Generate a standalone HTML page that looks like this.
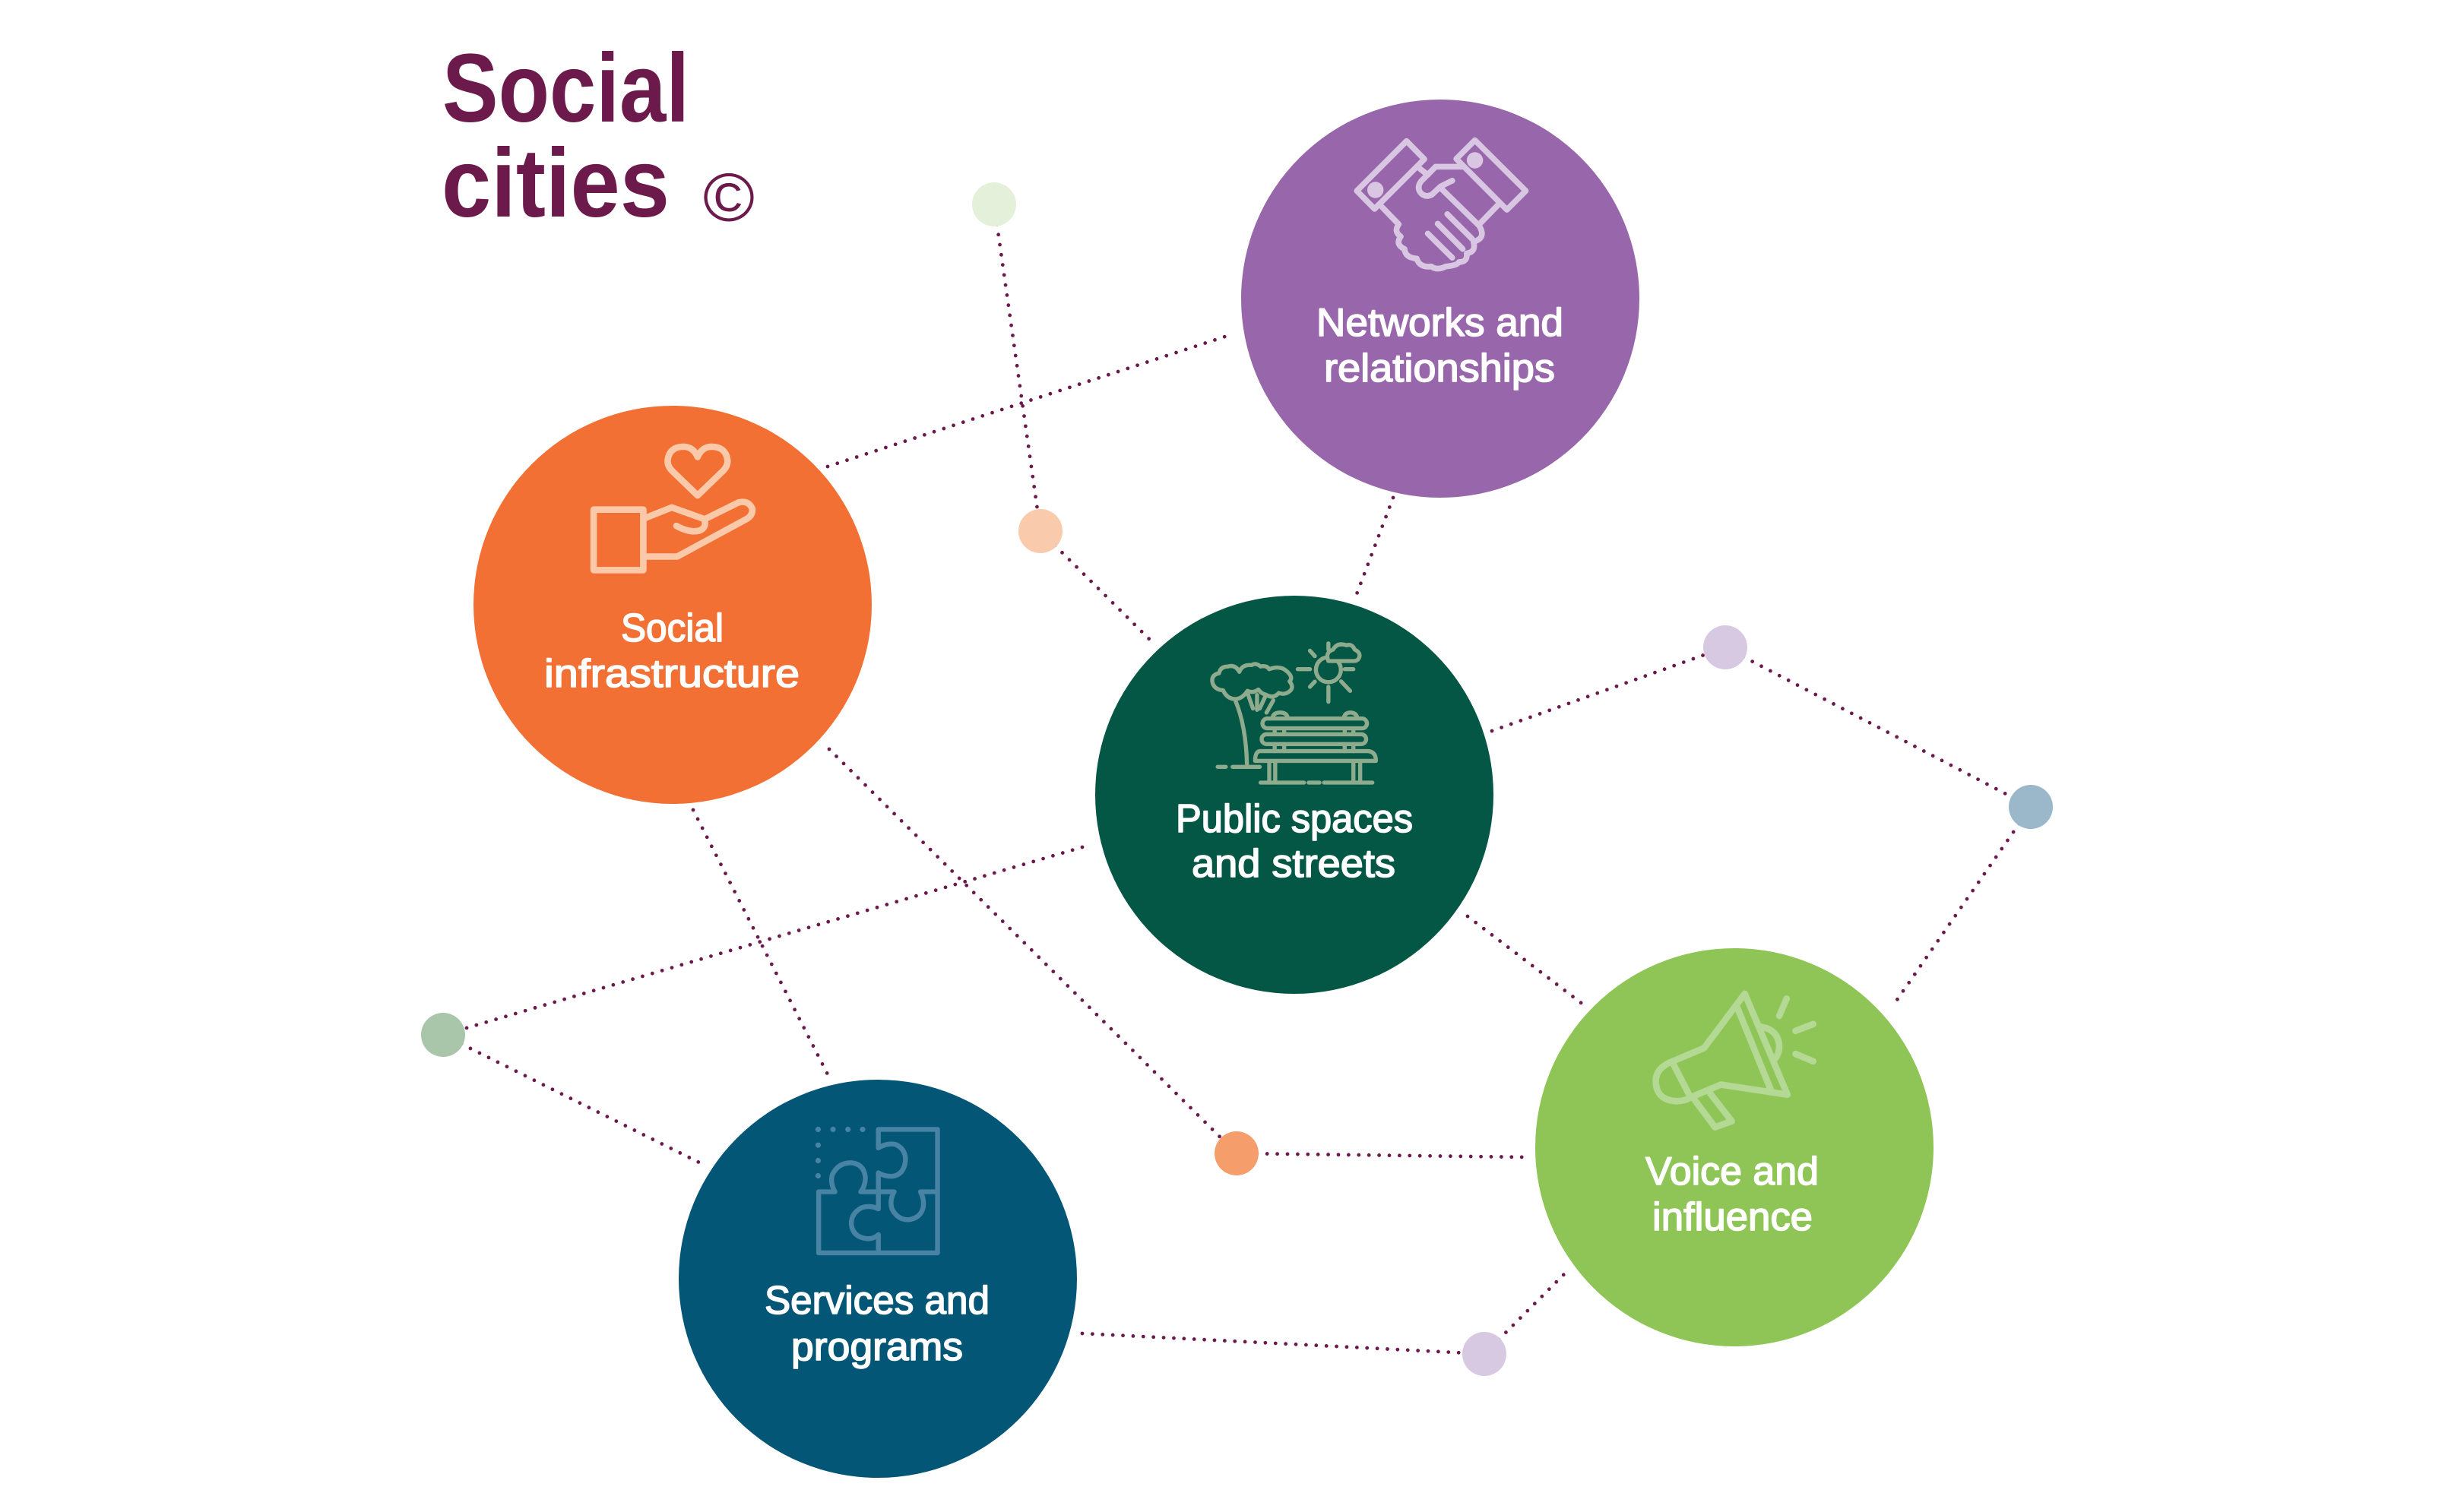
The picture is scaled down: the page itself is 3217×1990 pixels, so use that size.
<!DOCTYPE html>
<html>
<head>
<meta charset="utf-8">
<style>
html,body{margin:0;padding:0;background:#ffffff;}
svg{display:block;}
text{font-family:"Liberation Sans",Arial,sans-serif;}
</style>
</head>
<body>
<svg xmlns="http://www.w3.org/2000/svg" width="3217" height="1990" viewBox="0 0 3217 1990">
<rect width="3217" height="1990" fill="#ffffff"/>

<!-- Title -->
<text x="582" y="160" font-size="128" font-weight="bold" fill="#6b1a4b" textLength="325" lengthAdjust="spacingAndGlyphs">Social</text>
<text x="581" y="285" font-size="128" font-weight="bold" fill="#6b1a4b" textLength="300" lengthAdjust="spacingAndGlyphs">cities</text>
<text x="925" y="291" font-size="90" fill="#6b1a4b" textLength="68" lengthAdjust="spacingAndGlyphs">©</text>

<!-- Dotted connectors -->
<g stroke="#6b1a4b" stroke-width="4.8" stroke-linecap="round" stroke-dasharray="0 13.4" fill="none">
  <line x1="1089" y1="614" x2="1618" y2="441"/>
  <line x1="1308" y1="269" x2="1369" y2="699"/>
  <line x1="1369" y1="699" x2="1512" y2="841"/>
  <line x1="1833" y1="655" x2="1782" y2="790"/>
  <line x1="1963" y1="962" x2="2270" y2="852"/>
  <line x1="2270" y1="852" x2="2672" y2="1062"/>
  <line x1="2672" y1="1062" x2="2489" y2="1326"/>
  <line x1="1931" y1="1206" x2="2083" y2="1322"/>
  <line x1="1424" y1="1115" x2="583" y2="1362"/>
  <line x1="583" y1="1362" x2="922" y2="1531"/>
  <line x1="912" y1="1066" x2="1090" y2="1416"/>
  <line x1="1091" y1="986" x2="1627" y2="1518"/>
  <line x1="1627" y1="1518" x2="2008" y2="1523"/>
  <line x1="1424" y1="1755" x2="1953" y2="1782"/>
  <line x1="1953" y1="1782" x2="2058" y2="1677"/>
</g>

<!-- Small dots -->
<circle cx="1308" cy="269" r="29" fill="#e4f0da"/>
<circle cx="1369" cy="699" r="29" fill="#f9cbac"/>
<circle cx="2270" cy="852" r="29" fill="#d8c9e2"/>
<circle cx="2672" cy="1062" r="29" fill="#9bb8cb"/>
<circle cx="583" cy="1362" r="29" fill="#a9c5aa"/>
<circle cx="1627" cy="1518" r="29" fill="#f59e6c"/>
<circle cx="1953" cy="1782" r="29" fill="#d8c9e2"/>

<!-- Big circles -->
<circle cx="1895" cy="393" r="262" fill="#9866aa"/>
<circle cx="885" cy="796" r="262" fill="#f27033"/>
<circle cx="1703" cy="1046" r="262" fill="#045744"/>
<circle cx="2282" cy="1510" r="262" fill="#8fc556"/>
<circle cx="1155" cy="1683" r="262" fill="#035676"/>

<!-- Handshake icon -->
<g transform="translate(1600,100) scale(0.3827)" fill="none" stroke="#d8c6e3" stroke-width="20" stroke-linejoin="round" stroke-linecap="round">
  <polygon points="484,395 655,224 716,286 545,457"/>
  <circle cx="548" cy="392" r="28" fill="#d8c6e3" stroke="none"/>
  <polygon points="826,285 890,221 1065,395 1000,460"/>
  <circle cx="890" cy="290" r="28" fill="#d8c6e3" stroke="none"/>
  <path d="M700,318 L728,340"/>
  <path d="M755,312 L845,312"/>
  <path d="M755,312 L705,362 Q690,382 702,400 Q718,420 742,408 L772,380 L812,360"/>
  <path d="M772,385 L905,515"/>
  <path d="M905,510 L968,445"/>
  <path d="M795,475 L880,560"/>
  <path d="M762,508 L848,595"/>
  <path d="M728,542 L812,625"/>
  <path d="M572,452 L628,510 Q610,535 635,552 Q615,580 648,595 Q650,625 690,628 Q700,660 740,655 Q760,670 790,655 Q830,652 835,640 Q865,640 862,610 Q895,605 885,570 Q925,560 910,525 L905,515"/>
</g>

<!-- Heart in hand icon -->
<g transform="translate(600,520) scale(0.35714)" fill="none" stroke="#fac9a9" stroke-width="24" stroke-linejoin="round" stroke-linecap="round">
  <path d="M890,370 L797,280 Q777,260 780,238 Q787,190 840,190 Q875,192 890,228 Q905,192 940,190 Q993,190 1000,238 Q1003,260 983,280 Z"/>
  <rect x="507" y="422" width="183" height="223"/>
  <path d="M692,455 L795,414 L915,457 Q925,490 895,500 Q860,508 812,482"/>
  <path d="M915,458 L1040,396 Q1078,386 1092,420 Q1093,445 1068,458 L815,595 L692,595"/>
</g>

<!-- Park icon -->
<g transform="translate(1420,770) scale(0.35714)" fill="none" stroke="#8eab8e" stroke-width="15" stroke-linejoin="round" stroke-linecap="round">
  <path d="M530,388 Q495,385 490,355 Q488,330 515,325 Q520,300 548,300 Q575,292 590,320 Q600,292 635,295 Q650,285 668,300 Q690,295 700,310 Q740,295 765,318 Q790,340 775,355 Q795,380 770,395 Q755,405 735,398 Q715,420 690,405 Q670,400 660,385 Q640,400 620,390 Q600,420 575,420 Q545,420 530,388"/>
  <path d="M575,425 Q615,520 618,665"/>
  <path d="M620,398 L640,455 M655,405 L655,460 M688,405 L665,455 M715,425 L690,470"/>
  <path d="M510,670 L540,670 M565,670 L665,670"/>
  <circle cx="918" cy="312" r="46"/>
  <path d="M805,310 L850,310 M850,242 L868,262 M850,375 L868,356 M918,375 L918,430 M965,355 L998,390 M978,310 L1010,310 M918,215 L918,238"/>
  <path d="M918,280 Q905,248 935,238 Q950,210 985,222 Q1005,215 1015,238 Q1040,250 1030,270 Q1025,280 1010,280 Z" fill="#045744"/>
  <path d="M712,490 Q715,470 740,470 Q765,470 768,490 M975,490 Q978,470 1000,470 Q1020,470 1025,490"/>
  <rect x="675" y="492" width="385" height="36" rx="18" fill="#045744"/>
  <rect x="672" y="550" width="385" height="36" rx="18"/>
  <path d="M720,528 L720,550 M755,528 L755,550 M978,528 L978,550 M1010,528 L1010,550 M720,586 L720,612 M755,586 L755,612 M978,586 L978,612 M1010,586 L1010,612"/>
  <path d="M665,612 L1065,612 Q1093,615 1093,648 L648,648 Q648,615 665,612 Z"/>
  <path d="M700,648 L700,728 M722,648 L722,728 M1010,648 L1010,720 M1035,648 L1035,728"/>
  <path d="M668,728 L828,728 M845,728 L885,728 M902,728 L1080,728"/>
</g>

<!-- Megaphone icon -->
<g transform="translate(2000,1230) scale(0.35714)" fill="none" stroke="#b4d994" stroke-width="24" stroke-linejoin="round" stroke-linecap="round">
  <path d="M560,468 L678,418 L828,218 L985,590 L740,553 L628,600"/>
  <path d="M800,268 L925,575"/>
  <path d="M560,468 Q498,492 500,545 Q505,612 578,614 Q608,614 628,600 Z"/>
  <path d="M640,605 L718,710 L780,688 L700,585"/>
  <path d="M888,340 Q950,350 955,410 Q955,440 938,460"/>
  <path d="M955,300 L982,236 M1015,355 L1080,330 M1015,440 L1080,467"/>
</g>

<!-- Puzzle icon -->
<g transform="translate(870,1400) scale(0.35714)" fill="none" stroke="#4883a4" stroke-width="18" stroke-linejoin="round" stroke-linecap="round">
  <path d="M800,310 L800,242 L1018,242 L1018,697 L580,697 L580,472 L640,472 Q622,440 630,410 Q650,365 700,365 Q748,370 752,420 Q752,450 735,472 L858,472 Q840,505 850,535 Q870,575 910,575 Q955,570 965,530 Q970,500 955,472 L1018,472"/>
  <path d="M800,310 Q835,290 865,298 Q900,315 900,355 Q895,410 850,415 Q820,415 800,402 L800,535 Q770,520 740,530 Q700,550 700,590 Q705,640 760,645 Q785,645 800,630 L800,697"/>
  <g fill="#4883a4" stroke="none">
    <circle cx="578" cy="242" r="10"/><circle cx="633" cy="242" r="10"/><circle cx="688" cy="242" r="10"/><circle cx="742" cy="242" r="10"/>
    <circle cx="578" cy="300" r="10"/><circle cx="578" cy="357" r="10"/><circle cx="578" cy="413" r="10"/>
  </g>
</g>

<!-- Labels -->
<g fill="#ffffff" stroke="#ffffff" stroke-width="1.6" stroke-linejoin="round" font-size="52">
  <text x="1732" y="442" textLength="325" lengthAdjust="spacingAndGlyphs">Networks and</text>
  <text x="1742" y="502" textLength="304" lengthAdjust="spacingAndGlyphs">relationships</text>

  <text x="817" y="844" textLength="135" lengthAdjust="spacingAndGlyphs">Social</text>
  <text x="716" y="904" textLength="336" lengthAdjust="spacingAndGlyphs">infrastructure</text>

  <text x="1547" y="1095" textLength="312" lengthAdjust="spacingAndGlyphs">Public spaces</text>
  <text x="1568" y="1154" textLength="268" lengthAdjust="spacingAndGlyphs">and streets</text>

  <text x="2165" y="1559" textLength="228" lengthAdjust="spacingAndGlyphs">Voice and</text>
  <text x="2174" y="1619" textLength="211" lengthAdjust="spacingAndGlyphs">influence</text>

  <text x="1006" y="1729" textLength="296" lengthAdjust="spacingAndGlyphs">Services and</text>
  <text x="1041" y="1790" textLength="226" lengthAdjust="spacingAndGlyphs">programs</text>
</g>
</svg>
</body>
</html>
